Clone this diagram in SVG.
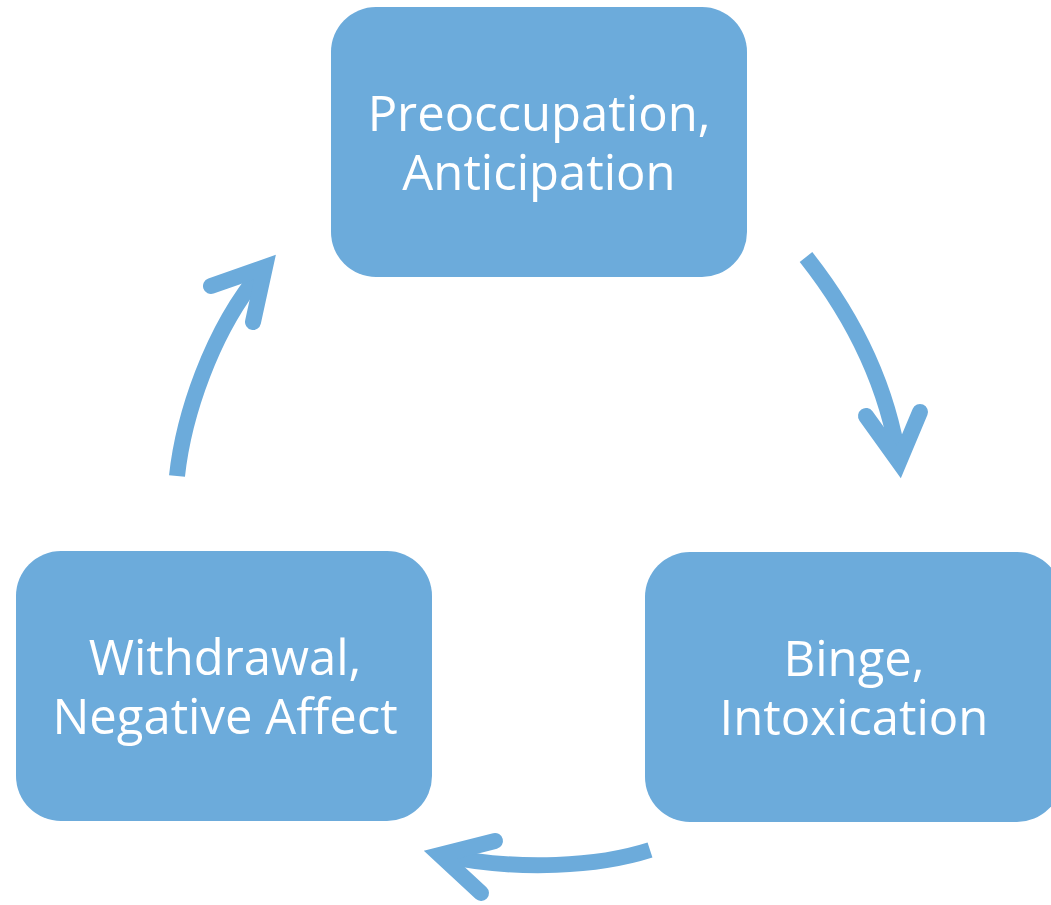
<svg xmlns="http://www.w3.org/2000/svg" width="1051" height="905" viewBox="0 0 1051 905">
<style>
.box{fill:#6CABDB;}
.lbl{fill:#FFFFFF;font-family:"Open Sans","Liberation Sans",sans-serif;font-size:49px;text-anchor:middle;}
.shaft{fill:none;stroke:#6CABDB;stroke-width:16;stroke-linecap:butt;}
.head{fill:none;stroke:#6CABDB;stroke-width:16;stroke-linecap:round;stroke-linejoin:miter;stroke-miterlimit:10;}
</style>
<rect width="1051" height="905" fill="#FFFFFF"/>
<g id="preoccupation">
<rect class="box" x="331" y="7" width="416" height="270" rx="45" ry="45"/>
<text class="lbl" x="539" y="131">Preoccupation,</text>
<text class="lbl" x="539" y="190">Anticipation</text>
</g>
<g id="binge">
<rect class="box" x="645" y="552" width="417" height="270" rx="45" ry="45"/>
<text class="lbl" x="854" y="676">Binge,</text>
<text class="lbl" x="854" y="735">Intoxication</text>
</g>
<g id="withdrawal">
<rect class="box" x="16" y="551" width="416" height="270" rx="45" ry="45"/>
<text class="lbl" x="225" y="675">Withdrawal,</text>
<text class="lbl" x="225" y="734">Negative Affect</text>
</g>
<g id="connectors">
<path class="shaft" d="M177,476 C183,420 210,330 265,267"/>
<polyline class="head" points="211,286 265,267 253,322"/>
<path class="shaft" d="M806,257 C840,300 885,370 899,462"/>
<polyline class="head" points="866,416 899,462 920,412"/>
<path class="shaft" d="M650,850 C600,866 520,872 440,855"/>
<polyline class="head" points="495,841 440,855 481,893"/>
</g>
</svg>
